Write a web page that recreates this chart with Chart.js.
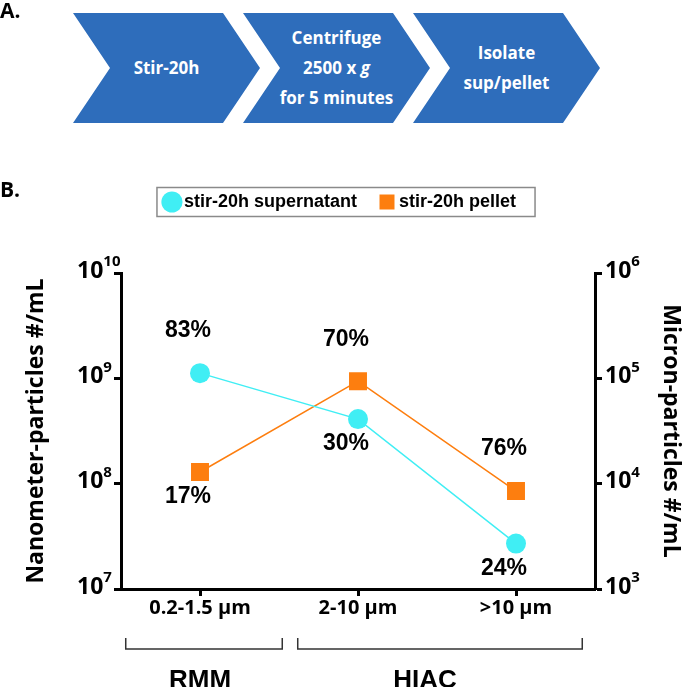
<!DOCTYPE html>
<html>
<head>
<meta charset="utf-8">
<script src="https://cdn.jsdelivr.net/npm/chart.js@4"></script>
<style>
  body { margin: 0; background: #fff; }
  #wrap { position: relative; width: 685px; height: 687px; overflow: hidden; }
  #chart_root { position: absolute; left: 0; top: 0; }
  .panel { position: absolute; left: 0; font: 700 21px "Open Sans", sans-serif; line-height: 21px; color: #000; }
  .step {
    position: absolute; top: 13px; width: 187px; height: 110px;
    background: #2e6dbb; color: #fff;
    clip-path: polygon(0 0, 150px 0, 187px 55px, 150px 110px, 0 110px, 37px 55px);
    display: flex; align-items: center; justify-content: center; text-align: center;
    font: 700 17px "Open Sans", sans-serif; line-height: 30px;
  }
</style>
</head>
<body>
<div id="wrap">
  <canvas id="chart_root" width="685" height="687"></canvas>
  <div class="panel" style="top:0px">A.</div>
  <div class="panel" style="top:179px">B.</div>
  <div class="step" style="left:73px"><div>Stir-20h</div></div>
  <div class="step" style="left:243px"><div>Centrifuge<br>2500 x <i>g</i><br>for 5 minutes</div></div>
  <div class="step" style="left:413px"><div>Isolate<br>sup/pellet</div></div>
</div>
<script>
// Data
const sizeBins = ['0.2-1.5 µm', '2-10 µm', '>10 µm'];
const binMethod = ['RMM', 'HIAC', 'HIAC'];
const binAxis = ['nano', 'micron', 'micron']; // which y axis each bin is read on
const supernatantCounts = [1.12e9, 4.1e4, 2.7e3];
const pelletCounts = [1.29e8, 9.4e4, 8.5e3];
const supernatantPct = [83, 30, 24];
const pelletPct = [17, 70, 76];
const supernatantPctSide = ['above', 'below', 'below'];
const pelletPctSide = ['below', 'above', 'above'];
const nanoTickExps = [7, 8, 9, 10];
const micronTickExps = [3, 4, 5, 6];

const nanoMin = Math.pow(10, nanoTickExps[0]);
const nanoMax = Math.pow(10, nanoTickExps[nanoTickExps.length - 1]);
const micronMin = Math.pow(10, micronTickExps[0]);
const micronMax = Math.pow(10, micronTickExps[micronTickExps.length - 1]);
const axisRatio = nanoMin / micronMin;

// put micron counts onto the nano (left) scale, both axes span the same decades
const toLeft = (arr) => arr.map((v, i) => (binAxis[i] === 'micron' ? v * axisRatio : v));

const CYAN = '#40eef4';
const ORANGE = '#fd7e0f';
const ARIAL = '"Liberation Sans", Arial, sans-serif';
const CALIBRI = '"Open Sans", sans-serif';

// Legend spacing + border box
const legendBox = {
  id: 'legendBox',
  afterInit(chart) {
    const lg = chart.legend;
    if (!lg) return;
    const fit = lg.fit;
    lg.fit = function () {
      fit.call(this);
      this.height = 107;
    };
  },
  afterDraw(chart) {
    const hb = chart.legend && chart.legend.legendHitBoxes;
    if (!hb || !hb.length) return;
    const ctx = chart.ctx;
    const first = hb[0];
    const last = hb[hb.length - 1];
    const cy = first.top + first.height / 2;
    const left = first.left - 12;
    const right = last.left + last.width + 19;
    ctx.save();
    ctx.strokeStyle = '#8a8a8a';
    ctx.lineWidth = 1.5;
    ctx.strokeRect(left, cy - 14.5, right - left, 29);
    ctx.restore();
  }
};

// 10^n tick labels with superscripts
const powerTicks = {
  id: 'powerTicks',
  afterDraw(chart) {
    const ctx = chart.ctx;
    ['y', 'y2'].forEach((id) => {
      const s = chart.scales[id];
      const x = id === 'y' ? s.right - 44 : s.left + 10;
      s.ticks.forEach((t) => {
        const py = s.getPixelForValue(t.value);
        const exp = Math.round(Math.log10(t.value));
        ctx.save();
        ctx.fillStyle = '#000';
        ctx.textAlign = 'left';
        ctx.textBaseline = 'middle';
        ctx.font = 'bold 23px ' + CALIBRI;
        ctx.fillText('10', x, py - 2);
        const w = ctx.measureText('10').width;
        ctx.font = 'bold 15px ' + CALIBRI;
        ctx.fillText(String(exp), x + w, py - 11);
        ctx.restore();
      });
    });
  }
};

// percentage labels next to the points
const pctLabels = {
  id: 'pctLabels',
  afterDatasetsDraw(chart) {
    const ctx = chart.ctx;
    const pcts = [supernatantPct, pelletPct];
    const sides = [supernatantPctSide, pelletPctSide];
    ctx.save();
    ctx.fillStyle = '#000';
    ctx.font = 'bold 23px ' + ARIAL;
    ctx.textAlign = 'center';
    ctx.textBaseline = 'middle';
    pcts.forEach((pct, i) => {
      chart.getDatasetMeta(i).data.forEach((pt, j) => {
        const dy = sides[i][j] === 'above' ? -42 : 25;
        ctx.fillText(pct[j] + '%', pt.x - 12, pt.y + dy);
      });
    });
    ctx.restore();
  }
};

// RMM / HIAC brackets under the x axis
const methodBrackets = {
  id: 'methodBrackets',
  afterDraw(chart) {
    const ctx = chart.ctx;
    const x = chart.scales.x;
    const band = x.getPixelForValue(1) - x.getPixelForValue(0);
    const groups = [];
    binMethod.forEach((m, i) => {
      const g = groups[groups.length - 1];
      if (g && g.name === m) g.last = i;
      else groups.push({ name: m, first: i, last: i });
    });
    const yTop = x.top + 49;
    const yBot = x.top + 60;
    ctx.save();
    ctx.strokeStyle = '#333';
    ctx.lineWidth = 1.5;
    ctx.fillStyle = '#000';
    ctx.font = 'bold 26px ' + ARIAL;
    ctx.textAlign = 'center';
    ctx.textBaseline = 'alphabetic';
    groups.forEach((g) => {
      const l = x.getPixelForValue(g.first) - band * 0.47 + (g.first > 0 ? 14 : 0);
      const r = x.getPixelForValue(g.last) + band * 0.47 - (g.last === sizeBins.length - 1 ? 8 : -8);
      ctx.beginPath();
      ctx.moveTo(l, yTop);
      ctx.lineTo(l, yBot);
      ctx.lineTo(r, yBot);
      ctx.lineTo(r, yTop);
      ctx.stroke();
      const cx = (l + r) / 2 - (g.first === g.last ? 4 : 15);
      ctx.fillText(g.name, cx, chart.height + 1);
    });
    ctx.restore();
  }
};

const axisGrid = {
  display: true,
  drawOnChartArea: false,
  drawTicks: true,
  tickLength: 7,
  tickWidth: 3,
  tickColor: '#000'
};

const ctx = document.getElementById('chart_root');

new Chart(ctx, {
  type: 'line',
  data: {
    labels: sizeBins,
    datasets: [
      {
        label: 'stir-20h supernatant',
        data: toLeft(supernatantCounts),
        borderColor: CYAN,
        backgroundColor: CYAN,
        borderWidth: 1.5,
        pointStyle: 'circle',
        pointRadius: 10,
        pointBackgroundColor: CYAN,
        pointBorderWidth: 0,
        yAxisID: 'y'
      },
      {
        label: 'stir-20h pellet',
        data: toLeft(pelletCounts),
        borderColor: ORANGE,
        backgroundColor: ORANGE,
        borderWidth: 1.5,
        pointStyle: 'rect',
        pointRadius: 12.7,
        pointBackgroundColor: ORANGE,
        pointBorderWidth: 0,
        yAxisID: 'y'
      }
    ]
  },
  options: {
    responsive: false,
    animation: false,
    layout: { padding: { top: 166, left: 0, right: 0, bottom: 0 } },
    plugins: {
      tooltip: { enabled: false },
      legend: {
        position: 'top',
        labels: {
          usePointStyle: true,
          boxWidth: 6,
          boxHeight: 15,
          padding: 27,
          color: '#000',
          font: { family: ARIAL, weight: 'bold', size: 18 }
        }
      }
    },
    scales: {
      x: {
        type: 'category',
        offset: true,
        grid: axisGrid,
        border: { display: true, color: '#000', width: 3 },
        ticks: {
          color: '#000',
          padding: 0,
          font: { family: CALIBRI, weight: 'bold', size: 20 }
        },
        afterFit: (s) => { s.height = 98; }
      },
      y: {
        type: 'logarithmic',
        position: 'left',
        min: nanoMin,
        max: nanoMax,
        grid: axisGrid,
        border: { display: true, color: '#000', width: 3 },
        ticks: { callback: () => '' },
        afterBuildTicks: (s) => { s.ticks = nanoTickExps.map((e) => ({ value: Math.pow(10, e) })); },
        title: {
          display: true,
          text: 'Nanometer-particles #/mL',
          color: '#000',
          font: { family: CALIBRI, weight: 'bold', size: 23 },
          padding: { top: 23, bottom: 0 }
        },
        afterFit: (s) => { s.width = 121; }
      },
      y2: {
        type: 'logarithmic',
        position: 'right',
        display: true,
        min: micronMin,
        max: micronMax,
        grid: axisGrid,
        border: { display: true, color: '#000', width: 3 },
        ticks: { callback: () => '' },
        afterBuildTicks: (s) => { s.ticks = micronTickExps.map((e) => ({ value: Math.pow(10, e) })); },
        title: {
          display: true,
          text: 'Micron-particles #/mL',
          color: '#000',
          font: { family: CALIBRI, weight: 'bold', size: 23 },
          padding: { top: 1, bottom: 0 }
        },
        afterFit: (s) => { s.width = 90; }
      }
    }
  },
  plugins: [legendBox, powerTicks, pctLabels, methodBrackets]
});
</script>
</body>
</html>
